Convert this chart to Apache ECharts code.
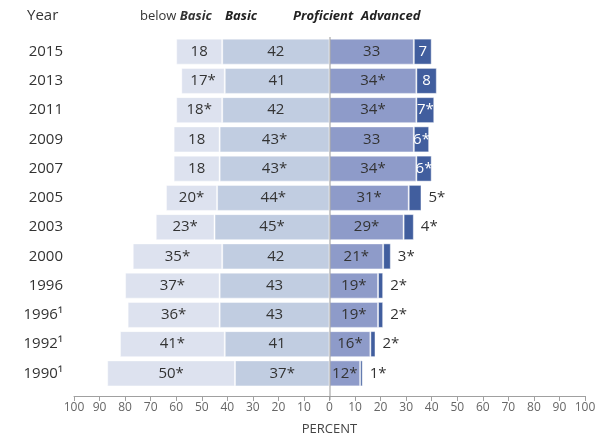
<!DOCTYPE html>
<html>
<head>
<meta charset="utf-8">
<script src="https://cdn.jsdelivr.net/npm/echarts@6/dist/echarts.min.js"></script>
<style>html,body{margin:0;padding:0;background:#fff}#c{width:602px;height:441px}</style>
</head>
<body>
<div id="c"></div>
<script>
const years = ['2015','2013','2011','2009','2007','2005','2003','2000','1996','1996\u00b9','1992\u00b9','1990\u00b9'];
const belowBasic    = [18,17,18,18,18,20,23,35,37,36,41,50];
const belowBasicSig = [0,1,1,0,0,1,1,1,1,1,1,1];
const basic         = [42,41,42,43,43,44,45,42,43,43,41,37];
const basicSig      = [0,0,0,1,1,1,1,0,0,0,0,1];
const proficient    = [33,34,34,33,34,31,29,21,19,19,16,12];
const proficientSig = [0,1,1,0,1,1,1,1,1,1,1,1];
const advanced      = [7,8,7,6,6,5,4,3,2,2,2,1];
const advancedSig   = [0,0,1,1,1,1,1,1,1,1,1,1];
const axisMin = -100, axisMax = 100, axisStep = 10;

const FONT = '"Open Sans", "Noto Sans", sans-serif';
const chart = echarts.init(document.getElementById('c'), null, {renderer: 'canvas'});

function fmt(vals, sig) {
  return p => vals[p.dataIndex] + (sig[p.dataIndex] ? '*' : '');
}
const labelBase = {show: true, fontFamily: FONT, fontSize: 15, color: '#333'};
const border = {borderColor: 'rgba(255,255,255,0.45)', borderWidth: 1};

const option = {
  animation: false,
  backgroundColor: '#fff',
  grid: {left: 74, right: 17, top: 37, bottom: 49},
  xAxis: {
    type: 'value', min: axisMin, max: axisMax, interval: axisStep,
    offset: 8,
    axisLine: {show: true, lineStyle: {color: '#a0a0a0'}},
    axisTick: {show: true, length: 5, lineStyle: {color: '#a0a0a0'}},
    splitLine: {show: false},
    axisLabel: {formatter: v => Math.abs(v), fontFamily: FONT, fontSize: 12, color: '#666', margin: 6},
    name: 'PERCENT', nameLocation: 'middle', nameGap: 27,
    nameTextStyle: {fontFamily: FONT, fontSize: 13, color: '#444'}
  },
  yAxis: {
    type: 'category', data: years, inverse: true,
    axisLine: {show: false}, axisTick: {show: false},
    axisLabel: {fontFamily: FONT, fontSize: 15, color: '#333', margin: 11}
  },
  series: [
    {name: 'Basic', type: 'bar', stack: 'all', barWidth: 26,
     data: basic.map(v => -v),
     itemStyle: Object.assign({color: '#c1cde1'}, border),
     label: Object.assign({position: 'inside', formatter: fmt(basic, basicSig)}, labelBase)},
    {name: 'below Basic', type: 'bar', stack: 'all', barWidth: 26,
     data: belowBasic.map(v => -v),
     itemStyle: Object.assign({color: '#dde2ef'}, border),
     label: Object.assign({position: 'inside', formatter: fmt(belowBasic, belowBasicSig)}, labelBase)},
    {name: 'Proficient', type: 'bar', stack: 'all', barWidth: 26,
     data: proficient,
     itemStyle: Object.assign({color: '#8e9bc9'}, border),
     label: Object.assign({position: 'inside', formatter: fmt(proficient, proficientSig)}, labelBase)},
    {name: 'Advanced', type: 'bar', stack: 'all', barWidth: 26,
     data: advanced.map(v => ({
       value: v,
       label: v >= 6 ? {position: 'inside', color: '#fff'} : {position: 'right', distance: 7, color: '#333'}
     })),
     itemStyle: Object.assign({color: '#415e9e'}, border),
     label: Object.assign({formatter: fmt(advanced, advancedSig)}, labelBase)}
  ]
};
chart.setOption(option);

const x0 = chart.convertToPixel({xAxisIndex: 0}, 0);
const gridTop = 37;
const axisY = 441 - 49 + 8;
const hdr = {fontFamily: FONT, fontSize: 13, fill: '#222', fontWeight: 'bold', fontStyle: 'italic'};
chart.setOption({
  graphic: [
    {type: 'line', z: 100, shape: {x1: x0 + 0.5, y1: gridTop, x2: x0 + 0.5, y2: axisY}, style: {stroke: '#999', lineWidth: 1}},
    {type: 'text', x: 27, y: 16, style: {text: 'Year', fontFamily: FONT, fontSize: 15, fill: '#333', verticalAlign: 'middle'}},
    {type: 'text', x: 140, y: 16, style: {text: 'below {b|Basic}', fontFamily: FONT, fontSize: 13, fill: '#333', verticalAlign: 'middle',
      rich: {b: {fontFamily: FONT, fontSize: 13, fontWeight: 'bold', fontStyle: 'italic', color: '#222'}}}},
    {type: 'text', x: 225, y: 16, style: Object.assign({text: 'Basic', verticalAlign: 'middle'}, hdr)},
    {type: 'text', x: 293, y: 16, style: Object.assign({text: 'Proficient', verticalAlign: 'middle'}, hdr)},
    {type: 'text', x: 361, y: 16, style: Object.assign({text: 'Advanced', verticalAlign: 'middle'}, hdr)}
  ]
});
</script>
</body>
</html>
